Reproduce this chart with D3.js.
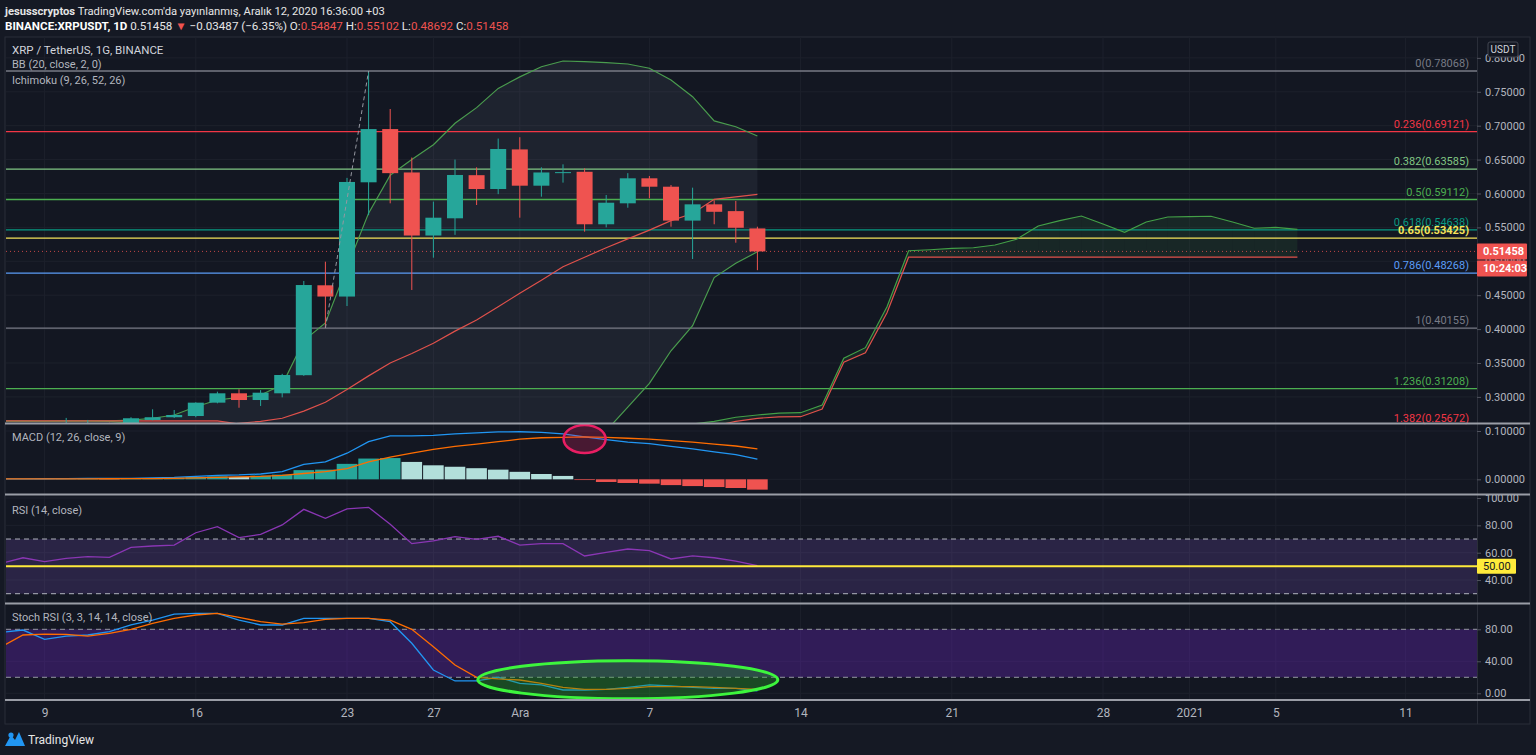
<!DOCTYPE html>
<html>
<head>
<meta charset="utf-8">
<script src="https://cdn.jsdelivr.net/npm/d3@7"></script>
<style>
  body { margin: 0; background: #151924; overflow: hidden; }
  svg { display: block; }
  text { font-family: Roboto, "Noto Sans", sans-serif; }
</style>
</head>
<body>
<svg id="chart" width="1536" height="755"></svg>
<script>
// ---- data (daily, starting 7 Nov 2020) ----
const firstDay = '2020-11-07';

const opens  = [0.246, 0.243, 0.250, 0.251, 0.258, 0.259, 0.257, 0.266, 0.270, 0.2718, 0.2915, 0.3053,
                0.2954, 0.3053, 0.332, 0.4646, 0.448, 0.6165, 0.695, 0.631, 0.538, 0.5634, 0.627, 0.6066,
                0.665, 0.6115, 0.6305, 0.632, 0.5546, 0.5855, 0.6224, 0.610, 0.560, 0.584, 0.574, 0.54847];
const highs  = [0.250, 0.252, 0.256, 0.269, 0.266, 0.262, 0.270, 0.2817, 0.2807, 0.292, 0.3077, 0.3112,
                0.310, 0.334, 0.471, 0.4994, 0.623, 0.78068, 0.7246, 0.653, 0.588, 0.650, 0.6386, 0.681,
                0.683, 0.6386, 0.643, 0.637, 0.5978, 0.630, 0.6258, 0.6125, 0.6086, 0.590, 0.589, 0.55102];
const lows   = [0.240, 0.240, 0.246, 0.249, 0.254, 0.254, 0.255, 0.2655, 0.269, 0.270, 0.2905, 0.284,
                0.2866, 0.2993, 0.331, 0.40155, 0.434, 0.568, 0.5855, 0.4577, 0.5053, 0.539, 0.583, 0.599,
                0.5643, 0.5953, 0.616, 0.5437, 0.550, 0.579, 0.593, 0.551, 0.5034, 0.5546, 0.5274, 0.48692];
const closes = [0.243, 0.250, 0.251, 0.258, 0.259, 0.257, 0.2685, 0.270, 0.2733, 0.2915, 0.3053, 0.2954,
                0.3062, 0.3323, 0.465, 0.448, 0.617, 0.695, 0.630, 0.538, 0.5643, 0.6273, 0.6066, 0.6656,
                0.6115, 0.631, 0.6315, 0.5546, 0.5864, 0.6224, 0.610, 0.560, 0.584, 0.573, 0.54945, 0.51458];

const bbUpper = [0.2645, 0.2643, 0.2641, 0.2645, 0.2648, 0.2645, 0.2657, 0.2685, 0.2733, 0.2855, 0.2954, 0.2994,
                 0.3028, 0.318, 0.383, 0.409, 0.491, 0.571, 0.627, 0.650, 0.672, 0.7035, 0.7266, 0.755,
                 0.772, 0.787, 0.7954, 0.7944, 0.793, 0.791, 0.7847, 0.7674, 0.7428, 0.707, 0.6985, 0.6848];
const bbBasis = [0.244, 0.245, 0.246, 0.247, 0.248, 0.249, 0.250, 0.251, 0.253, 0.255, 0.258, 0.261,
                 0.264, 0.2685, 0.279, 0.292, 0.311, 0.331, 0.350, 0.364, 0.379, 0.397, 0.4134, 0.433,
                 0.4528, 0.472, 0.492, 0.506, 0.520, 0.533, 0.546, 0.560, 0.5705, 0.5914, 0.595, 0.5988];
const bbLower = [0.236, 0.236, 0.237, 0.237, 0.238, 0.239, 0.238, 0.236, 0.234, 0.230, 0.226, 0.224,
                 0.223, 0.219, 0.175, 0.175, 0.132, 0.091, 0.073, 0.078, 0.086, 0.090, 0.100, 0.111,
                 0.134, 0.157, 0.189, 0.218, 0.250, 0.285, 0.320, 0.368, 0.405, 0.476, 0.497, 0.514];

// Ichimoku leading spans (already shifted 26 days forward), 7 Nov 2020 .. 6 Jan 2021
const spanA = [0.2642, 0.2642, 0.2642, 0.2642, 0.2642, 0.2640, 0.2615, 0.2605, 0.2600, 0.2598, 0.2598, 0.2590,
               0.2550, 0.252, 0.250, 0.249, 0.248, 0.246, 0.245, 0.244, 0.243, 0.243, 0.243, 0.244,
               0.245, 0.246, 0.248, 0.250, 0.252, 0.254, 0.256, 0.258, 0.260, 0.264, 0.270, 0.2733,
               0.2760, 0.2767, 0.288, 0.357, 0.3726, 0.433, 0.5156, 0.517, 0.519, 0.520, 0.524, 0.5325,
               0.552, 0.560, 0.5668, 0.555, 0.5428, 0.558, 0.5653, 0.566, 0.5664, 0.558, 0.5487, 0.550, 0.5472];
const spanB = [0.2646, 0.2646, 0.2646, 0.2646, 0.2646, 0.2646, 0.2646, 0.2646, 0.2646, 0.2646, 0.2646, 0.2600,
               0.2560, 0.255, 0.255, 0.255, 0.255, 0.255, 0.254, 0.254, 0.252, 0.250, 0.249, 0.248,
               0.247, 0.246, 0.246, 0.246, 0.247, 0.248, 0.250, 0.252, 0.254, 0.257, 0.264, 0.2684,
               0.2705, 0.2708, 0.2822, 0.351, 0.365, 0.424, 0.506, 0.506, 0.506, 0.506, 0.506, 0.506,
               0.506, 0.506, 0.506, 0.506, 0.506, 0.506, 0.506, 0.506, 0.506, 0.506, 0.506, 0.506, 0.506];

const macdLine   = [0.001, 0.001, 0.0012, 0.0015, 0.0018, 0.0018, 0.002, 0.003, 0.004, 0.006, 0.008, 0.009,
                    0.011, 0.0157, 0.031, 0.036, 0.054, 0.078, 0.090, 0.090, 0.091, 0.094, 0.096, 0.098,
                    0.0985, 0.097, 0.094, 0.088, 0.082, 0.077, 0.074, 0.068, 0.063, 0.057, 0.051, 0.042];
const signalLine = [0.0008, 0.0008, 0.0009, 0.001, 0.0011, 0.0012, 0.0013, 0.0015, 0.002, 0.003, 0.004, 0.005,
                    0.006, 0.008, 0.012, 0.016, 0.022, 0.036, 0.046, 0.054, 0.062, 0.068, 0.073, 0.078,
                    0.083, 0.086, 0.087, 0.088, 0.087, 0.085, 0.083, 0.080, 0.077, 0.073, 0.069, 0.063];
const histogram  = [0.0002, 0.0002, 0.0003, 0.0005, 0.0007, 0.0006, 0.0007, 0.0015, 0.0035, 0.005, 0.006, 0.005,
                    0.0075, 0.0097, 0.019, 0.020, 0.032, 0.043, 0.044, 0.036, 0.029, 0.026, 0.023, 0.020,
                    0.0155, 0.011, 0.007, -0.0015, -0.0055, -0.0076, -0.009, -0.012, -0.014, -0.016, -0.018, -0.0214];

const rsiValues = [52.2, 56.3, 53.4, 55.9, 57.1, 56.6, 63.9, 64.9, 65.6, 74.6, 79.0, 71.0,
                   73.4, 80.3, 91.7, 85.2, 92.0, 93.2, 80.8, 66.6, 68.6, 71.7, 69.8, 72.0,
                   65.6, 66.6, 66.6, 57.6, 60.3, 62.7, 61.5, 55.4, 57.6, 56.3, 53.9, 50.5];

const stochK = [76.2, 79.1, 67.5, 71.6, 72.9, 77.0, 85.4, 91.6, 99.1, 100, 100, 91.6,
                85.4, 85.4, 93.7, 93.7, 93.7, 93.7, 89.5, 62.5, 29.1, 15.4, 15.4, 20,
                12.5, 10.4, 4.1, 4.1, 5.0, 7.5, 10.4, 9.1, 7.5, 6.2, 6.2, 2.9];
const stochD = [58.3, 72.9, 74.1, 73.7, 71.6, 75, 80, 87.5, 93.7, 97.9, 100, 95,
                89.5, 86.6, 88.3, 92.5, 93.7, 93.7, 91.6, 80, 58.3, 35.4, 20, 17.9,
                16.6, 12.5, 7.5, 5, 5, 6.2, 8.3, 8.3, 8.3, 7.5, 6.2, 5];

const fibRatios = ['0', '0.236', '0.382', '0.5', '0.618', '0.65', '0.786', '1', '1.236', '1.382'];
const fibPrices = [0.78068, 0.69121, 0.63585, 0.59112, 0.54638, 0.53425, 0.48268, 0.40155, 0.31208, 0.25672];
const fibAnchors = [['2020-11-22', 0.40155], ['2020-11-24', 0.78068]];

const priceTicks = [0.30, 0.35, 0.40, 0.45, 0.50, 0.55, 0.60, 0.65, 0.70, 0.75, 0.80];
const macdTicks = [0, 0.1];
const rsiTicks = [40, 60, 80, 100];
const stochTicks = [0, 40, 80];
const xTickDays = ['2020-11-09', '2020-11-16', '2020-11-23', '2020-11-27', '2020-12-01', '2020-12-07',
                   '2020-12-14', '2020-12-21', '2020-12-28', '2021-01-01', '2021-01-05', '2021-01-11'];
const xTickLabels = ['9', '16', '23', '27', 'Ara', '7', '14', '21', '28', '2021', '5', '11'];

const lastPrice = 0.51458;

// ---- styles ----
const fibColors = ['#787b86', '#f23645', '#81c784', '#4caf50', '#089981', '#f5e35a', '#5b9cf6', '#787b86', '#4caf50', '#f23645'];
const upColor = '#26a69a', downColor = '#ef5350';
const bg = '#131722', gridColor = '#1d212c', textColor = '#b2b5be';

// ---- layout ----
const plotL = 6, plotR = 1477, boxR = 1530;
const panes = {
  main:  { top: 37,  bottom: 423 },
  macd:  { top: 424, bottom: 494 },
  rsi:   { top: 495, bottom: 603 },
  stoch: { top: 604, bottom: 700 }
};

const parse = d3.utcParse('%Y-%m-%d');
const start = parse(firstDay);
const dayAt = i => d3.utcDay.offset(start, i);

const x = d3.scaleUtc()
  .domain([parse('2020-11-23'), parse('2021-01-11')])
  .range([347, 1405.4]);
const step = x(dayAt(1)) - x(dayAt(0));

const yMain  = d3.scaleLinear().domain([0.2615, 0.8308]).range([423, 37]);
const yMacd  = d3.scaleLinear().domain([-0.0304, 0.1145]).range([494, 424]);
const yRsi   = d3.scaleLinear().domain([23.2, 102.2]).range([603, 495]);
const yStoch = d3.scaleLinear().domain([-8.4, 112.9]).range([700, 603]);

const svg = d3.select('#chart');
const defs = svg.append('defs');

svg.append('rect').attr('width', 1536).attr('height', 755).attr('fill', '#151924');
svg.append('rect').attr('x', 5).attr('y', 37).attr('width', boxR - 5).attr('height', 687)
  .attr('fill', bg).attr('stroke', '#2a2e39');

function clip(id, p, x0, x1) {
  defs.append('clipPath').attr('id', id).append('rect')
    .attr('x', x0).attr('y', p.top).attr('width', x1 - x0).attr('height', p.bottom - p.top);
  return svg.append('g').attr('clip-path', `url(#${id})`);
}

const gMain = clip('clip-main', panes.main, plotL, plotR);
const gMacd = clip('clip-macd', panes.macd, plotL, plotR);
const gRsi = clip('clip-rsi', panes.rsi, plotL, plotR);
const gStoch = clip('clip-stoch', panes.stoch, plotL, plotR);

// vertical grid in every pane
[[gMain, panes.main], [gMacd, panes.macd], [gRsi, panes.rsi], [gStoch, panes.stoch]].forEach(([g, p]) => {
  g.selectAll('.vgrid').data(xTickDays).enter().append('line')
    .attr('x1', d => x(parse(d))).attr('x2', d => x(parse(d)))
    .attr('y1', p.top).attr('y2', p.bottom)
    .attr('stroke', gridColor);
});
function hgrid(g, ticks, y) {
  g.selectAll(null).data(ticks).enter().append('line')
    .attr('x1', plotL).attr('x2', plotR)
    .attr('y1', d => y(d)).attr('y2', d => y(d))
    .attr('stroke', gridColor);
}
hgrid(gMain, priceTicks, yMain);
hgrid(gMacd, macdTicks, yMacd);
hgrid(gRsi, rsiTicks, yRsi);
hgrid(gStoch, stochTicks, yStoch);

// ---- main pane ----
const days = d3.range(closes.length);

// Bollinger fill
const bbArea = d3.area()
  .x(i => x(dayAt(i)))
  .y0(i => yMain(bbLower[i]))
  .y1(i => yMain(bbUpper[i]));
gMain.append('path').datum(days).attr('d', bbArea).attr('fill', 'rgba(190,200,220,0.07)');

// Ichimoku cloud fill, coloured by which span is on top
d3.range(spanA.length - 1).forEach(i => {
  const up = (spanA[i] + spanA[i + 1]) >= (spanB[i] + spanB[i + 1]);
  const pts = [
    [x(dayAt(i)), yMain(spanA[i])], [x(dayAt(i + 1)), yMain(spanA[i + 1])],
    [x(dayAt(i + 1)), yMain(spanB[i + 1])], [x(dayAt(i)), yMain(spanB[i])]
  ];
  gMain.append('path').attr('d', 'M' + pts.join('L') + 'Z')
    .attr('fill', up ? 'rgba(67,160,71,0.12)' : 'rgba(244,67,54,0.22)');
});

// fib levels
gMain.selectAll('.fib').data(fibPrices).enter().append('line')
  .attr('x1', plotL).attr('x2', plotR)
  .attr('y1', d => yMain(d)).attr('y2', d => yMain(d))
  .attr('stroke', (d, i) => fibColors[i]).attr('stroke-width', 1.3);

// last price dotted line
gMain.append('line').attr('x1', plotL).attr('x2', plotR)
  .attr('y1', yMain(lastPrice)).attr('y2', yMain(lastPrice))
  .attr('stroke', downColor).attr('stroke-dasharray', '1,3').attr('stroke-opacity', 0.8);

const lineOf = (arr, y) => d3.line().x((d, i) => x(dayAt(i))).y(d => y(d))(arr);

gMain.append('path').attr('d', lineOf(bbUpper, yMain)).attr('fill', 'none').attr('stroke', '#4a9c4e').attr('stroke-width', 1.2);
gMain.append('path').attr('d', lineOf(bbLower, yMain)).attr('fill', 'none').attr('stroke', '#4a9c4e').attr('stroke-width', 1.2);
gMain.append('path').attr('d', lineOf(bbBasis, yMain)).attr('fill', 'none').attr('stroke', '#e0514b').attr('stroke-width', 1.2);
gMain.append('path').attr('d', lineOf(spanA, yMain)).attr('fill', 'none').attr('stroke', '#43a047').attr('stroke-width', 1.2);
gMain.append('path').attr('d', lineOf(spanB, yMain)).attr('fill', 'none').attr('stroke', '#e0514b').attr('stroke-width', 1.2);

// candles
const bodyW = step * 0.74;
const candles = gMain.selectAll('.candle').data(days).enter().append('g');
candles.append('line')
  .attr('x1', i => x(dayAt(i))).attr('x2', i => x(dayAt(i)))
  .attr('y1', i => yMain(highs[i])).attr('y2', i => yMain(lows[i]))
  .attr('stroke', i => closes[i] >= opens[i] ? upColor : downColor);
candles.append('rect')
  .attr('x', i => x(dayAt(i)) - bodyW / 2).attr('width', bodyW)
  .attr('y', i => yMain(Math.max(opens[i], closes[i])))
  .attr('height', i => Math.max(1, Math.abs(yMain(opens[i]) - yMain(closes[i]))))
  .attr('fill', i => closes[i] >= opens[i] ? upColor : downColor);

// fib trend line (dashed)
gMain.append('line')
  .attr('x1', x(parse(fibAnchors[0][0]))).attr('y1', yMain(fibAnchors[0][1]))
  .attr('x2', x(parse(fibAnchors[1][0]))).attr('y2', yMain(fibAnchors[1][1]))
  .attr('stroke', '#9598a1').attr('stroke-dasharray', '4,3');

// fib labels
svg.selectAll('.fiblabel').data(fibPrices).enter().append('text')
  .attr('x', plotR - 8).attr('y', d => yMain(d) - 4)
  .attr('text-anchor', 'end').attr('font-size', 11)
  .attr('fill', (d, i) => fibColors[i])
  .attr('font-weight', (d, i) => fibRatios[i] === '0.65' ? 'bold' : 'normal')
  .text((d, i) => `${fibRatios[i]}(${d3.format('.5f')(d)})`);

// ---- MACD ----
gMacd.selectAll('.hist').data(histogram).enter().append('rect')
  .attr('x', (d, i) => x(dayAt(i)) - step / 2 + 0.5)
  .attr('width', step - 1)
  .attr('y', d => yMacd(Math.max(0, d)))
  .attr('height', d => Math.abs(yMacd(d) - yMacd(0)))
  .attr('fill', (d, i) => {
    const prev = i > 0 ? histogram[i - 1] : d;
    if (d >= 0) return d >= prev ? '#26a69a' : '#b2dfdb';
    return d <= prev ? '#ef5350' : '#ffcdd2';
  });
gMacd.append('path').attr('d', lineOf(macdLine, yMacd)).attr('fill', 'none').attr('stroke', '#2196f3').attr('stroke-width', 1.3);
gMacd.append('path').attr('d', lineOf(signalLine, yMacd)).attr('fill', 'none').attr('stroke', '#ff6d00').attr('stroke-width', 1.3);
// highlight of the crossover
gMacd.append('ellipse')
  .attr('cx', x(parse('2020-12-04'))).attr('cy', yMacd(0.0835))
  .attr('rx', 21).attr('ry', 14)
  .attr('fill', 'rgba(233,30,99,0.25)').attr('stroke', '#e91e63').attr('stroke-width', 2.5);

// ---- RSI ----
gRsi.append('rect').attr('x', plotL).attr('width', plotR - plotL)
  .attr('y', yRsi(70)).attr('height', yRsi(30) - yRsi(70)).attr('fill', 'rgba(126,87,194,0.22)');
[70, 30].forEach(v => gRsi.append('line').attr('x1', plotL).attr('x2', plotR)
  .attr('y1', yRsi(v)).attr('y2', yRsi(v)).attr('stroke', '#b2b5be').attr('stroke-dasharray', '5,4'));
gRsi.append('path').attr('d', lineOf(rsiValues, yRsi)).attr('fill', 'none').attr('stroke', '#8a36b4').attr('stroke-width', 1.3);
gRsi.append('line').attr('x1', plotL).attr('x2', plotR)
  .attr('y1', yRsi(50)).attr('y2', yRsi(50)).attr('stroke', '#ffeb3b').attr('stroke-width', 2);

// ---- Stoch RSI ----
gStoch.append('rect').attr('x', plotL).attr('width', plotR - plotL)
  .attr('y', yStoch(80)).attr('height', yStoch(20) - yStoch(80)).attr('fill', 'rgba(120,40,215,0.3)');
[80, 20].forEach(v => gStoch.append('line').attr('x1', plotL).attr('x2', plotR)
  .attr('y1', yStoch(v)).attr('y2', yStoch(v)).attr('stroke', '#9598a1').attr('stroke-dasharray', '5,4'));
gStoch.append('path').attr('d', lineOf(stochK, yStoch)).attr('fill', 'none').attr('stroke', '#2196f3').attr('stroke-width', 1.3);
gStoch.append('path').attr('d', lineOf(stochD, yStoch)).attr('fill', 'none').attr('stroke', '#ff6d00').attr('stroke-width', 1.3);
svg.append('ellipse')
  .attr('cx', x(parse('2020-12-06'))).attr('cy', yStoch(17))
  .attr('rx', 150).attr('ry', 19)
  .attr('fill', 'rgba(40,170,40,0.35)').attr('stroke', '#3df53d').attr('stroke-width', 3);

// ---- pane separators and axes ----
svg.append('line').attr('x1', plotR + 0.5).attr('x2', plotR + 0.5).attr('y1', 37).attr('y2', 724).attr('stroke', '#2a2e39');
[423.5, 494.5, 603.5, 700].forEach(y => svg.append('line')
  .attr('x1', 5).attr('x2', boxR).attr('y1', y).attr('y2', y)
  .attr('stroke', '#9a9da6').attr('stroke-width', 2));

function rightAxis(scale, ticks, fmt, p, id) {
  defs.append('clipPath').attr('id', id).append('rect')
    .attr('x', plotR).attr('y', p.top).attr('width', boxR - plotR).attr('height', p.bottom - p.top);
  const g = svg.append('g').attr('clip-path', `url(#${id})`)
    .append('g').attr('transform', `translate(${plotR},0)`)
    .call(d3.axisRight(scale).tickValues(ticks).tickFormat(fmt).tickSize(4).tickPadding(4));
  g.select('.domain').remove();
  g.selectAll('line').attr('stroke', '#50535e');
  g.selectAll('text').attr('fill', textColor).attr('font-size', 11).attr('font-family', 'Roboto, sans-serif');
}
rightAxis(yMain, priceTicks, d3.format('.5f'), panes.main, 'ax-main');
rightAxis(yMacd, macdTicks, d3.format('.5f'), panes.macd, 'ax-macd');
rightAxis(yRsi, rsiTicks, d3.format('.2f'), panes.rsi, 'ax-rsi');
rightAxis(yStoch, stochTicks, d3.format('.2f'), panes.stoch, 'ax-stoch');

const xAxis = svg.append('g').attr('transform', 'translate(0,700)')
  .call(d3.axisBottom(x).tickValues(xTickDays.map(parse)).tickFormat((d, i) => xTickLabels[i]).tickSize(0).tickPadding(8.5));
xAxis.select('.domain').remove();
xAxis.selectAll('text').attr('fill', textColor).attr('font-size', 12).attr('font-family', 'Roboto, sans-serif');

// price axis badges
function badge(y, h, w, fill, txt, color, bold) {
  svg.append('rect').attr('x', plotR).attr('y', y - h / 2).attr('width', w).attr('height', h).attr('fill', fill).attr('rx', 1);
  svg.append('text').attr('x', plotR + 6).attr('y', y + 4).attr('font-size', 11)
    .attr('font-weight', bold ? 'bold' : 'normal').attr('fill', color).text(txt);
}
badge(yMain(lastPrice), 16, 50, downColor, d3.format('.5f')(lastPrice), '#ffffff', true);
badge(yMain(lastPrice) + 17, 16, 50, downColor, '10:24:03', '#ffffff', true);
badge(yRsi(50), 15, 39, '#ffeb3b', '50.00', '#131722', false);

svg.append('rect').attr('x', 1488).attr('y', 42).attr('width', 30).attr('height', 15)
  .attr('fill', bg).attr('stroke', '#434651').attr('rx', 2);
svg.append('text').attr('x', 1503).attr('y', 53).attr('text-anchor', 'middle')
  .attr('font-size', 10).attr('fill', '#d1d4dc').text('USDT');

// ---- legends ----
const legends = [
  [12, 54, 'XRP / TetherUS, 1G, BINANCE', 11.5, '#d1d4dc'],
  [12, 68, 'BB (20, close, 2, 0)', 11, textColor],
  [12, 84, 'Ichimoku (9, 26, 52, 26)', 11, textColor],
  [12, 441, 'MACD (12, 26, close, 9)', 11, textColor],
  [12, 514, 'RSI (14, close)', 11, textColor],
  [12, 621, 'Stoch RSI (3, 3, 14, 14, close)', 11, textColor]
];
svg.selectAll('.legend').data(legends).enter().append('text')
  .attr('x', d => d[0]).attr('y', d => d[1]).attr('font-size', d => d[3]).attr('fill', d => d[4])
  .text(d => d[2]);

// ---- header ----
const h1 = svg.append('text').attr('x', 5).attr('y', 15).attr('font-size', 11.2).attr('fill', '#e6e6e6');
h1.append('tspan').attr('font-weight', 'bold').text('jesusscryptos');
h1.append('tspan').text(" TradingView.com'da yayınlanmış, Aralık 12, 2020 16:36:00 +03");

const h2 = svg.append('text').attr('x', 5).attr('y', 30).attr('font-size', 11.6).attr('fill', '#e6e6e6');
const parts = [
  ['BINANCE:XRPUSDT, 1D', '#ffffff', 'bold'], [' 0.51458 ', '#e6e6e6'], ['▼', downColor],
  [' −0.03487 (−6.35%) O:', '#e6e6e6'], ['0.54847', downColor], [' H:', '#e6e6e6'], ['0.55102', downColor],
  [' L:', '#e6e6e6'], ['0.48692', downColor], [' C:', '#e6e6e6'], ['0.51458', downColor]
];
parts.forEach(p => h2.append('tspan').attr('fill', p[1]).attr('font-weight', p[2] || 'normal').text(p[0]));

// ---- TradingView mark ----
const logo = svg.append('g').attr('transform', 'translate(5,731)');
logo.append('path').attr('d', 'M0,15 L6,4 L10,9 L14,1 L20,15 Z').attr('fill', '#2196f3');
logo.append('circle').attr('cx', 6).attr('cy', 4).attr('r', 2.6).attr('fill', '#2196f3');
svg.append('text').attr('x', 28).attr('y', 744).attr('font-size', 12).attr('fill', '#e6e6e6').text('TradingView');
</script>
</body>
</html>
